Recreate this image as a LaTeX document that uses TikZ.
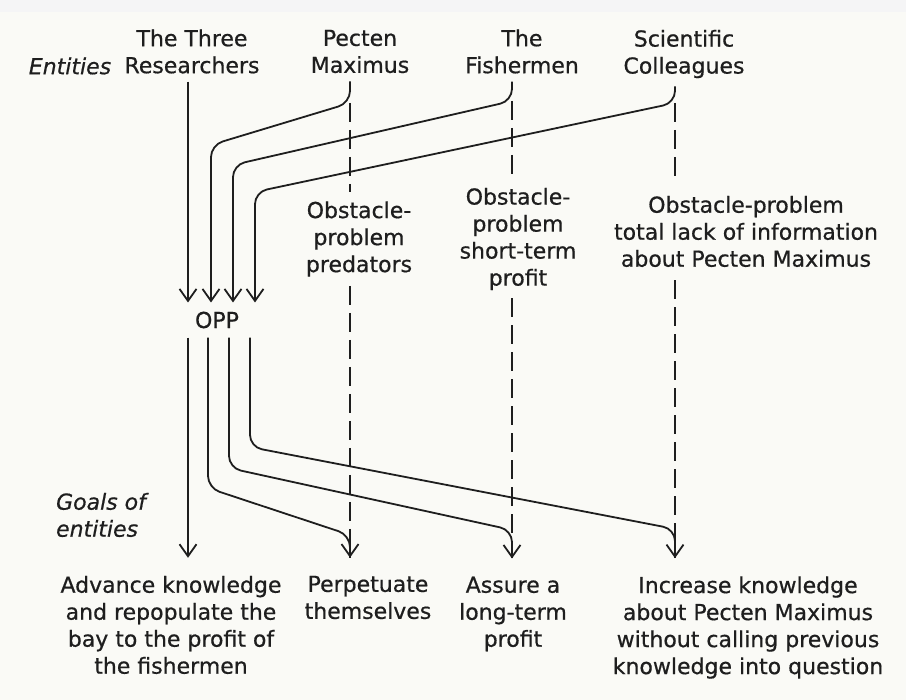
\documentclass[tikz,border=0pt]{standalone}
\usepackage{fontspec}
\setmainfont{DejaVu Sans}[FakeBold=0.6, ItalicFont={DejaVu Sans Oblique}, ItalicFeatures={FakeBold=0.6}]
\usetikzlibrary{arrows.meta}

\definecolor{ink}{RGB}{30,30,30}
\definecolor{paper}{RGB}{250,250,246}

\tikzset{
  label font/.style={font=\fontsize{22}{27}\selectfont, text=ink},
  side font/.style={font=\fontsize{22}{27}\selectfont\itshape, text=ink},
  flow/.style={draw=ink, line width=1.8pt, rounded corners=12pt},
  tip/.style={-{Straight Barb[length=12pt,width=17pt,line width=1.8pt]}},
  gap/.style={draw=ink, line width=1.5pt, dash pattern=on 19pt off 8pt},
}

\begin{document}
\begin{tikzpicture}[x=1pt,y=-1pt]

  \fill[paper] (0,0) rectangle (906,700);
  \fill[blue!2!paper] (0,0) rectangle (906,12);
  \useasboundingbox (0,0) rectangle (906,700);

  % entities
  \begin{scope}[every node/.style={label font, align=center, inner xsep=2pt, inner ysep=8pt}]
    \node (res)  at (192,51.5) {The Three\\Researchers};
    \node (pm)   at (360,51.5) {Pecten\\Maximus};
    \node (fish) at (522,51.5) {The\\Fishermen};
    \node (col)  at (684,54)   {Scientific\\Colleagues};
  \end{scope}

  \begin{scope}[every node/.style={side font, align=left}]
    \node (ent)   at (70,66)   {Entities};
    \node (goals) at (101,515) {Goals of\\entities};
  \end{scope}

  \node[label font, inner ysep=9pt] (opp) at (217,320) {OPP};

  % obstacles
  \begin{scope}[every node/.style={label font, align=center}]
    \node[inner ysep=9pt]  (obs1) at (359,239)   {Obstacle-\\problem\\predators};
    \node[inner ysep=8pt]  (obs2) at (518,239)   {Obstacle-\\problem\\short-term\\profit};
    \node[inner ysep=13pt] (obs3) at (746,231.5) {Obstacle-problem\\total lack of information\\about Pecten Maximus};
  \end{scope}

  % goals
  \begin{scope}[every node/.style={label font, align=center, inner ysep=18pt}]
    \node (adv)  at (171,625)   {Advance knowledge\\and repopulate the\\bay to the profit of\\the fishermen};
    \node (perp) at (368,597.5) {Perpetuate\\themselves};
    \node (sure) at (513,614)   {Assure a\\long-term\\profit};
    \node (inc)  at (748,627.5) {Increase knowledge\\about Pecten Maximus\\without calling previous\\knowledge into question};
  \end{scope}

  \coordinate (k1) at (188,300);
  \coordinate (k2) at (211,145);
  \coordinate (k3) at (233,165);
  \coordinate (k4) at (255,192);
  \coordinate (pmb)   at (350,103);
  \coordinate (fishb) at (512,101);
  \coordinate (colb)  at (675,103);

  \coordinate (o2) at (208,488);
  \coordinate (o3) at (229,468);
  \coordinate (o4) at (250,447);
  \coordinate (p2) at (350,535);
  \coordinate (p3) at (512,530);
  \coordinate (p4) at (675,529);

  % into OPP
  \draw[flow, tip] ([xshift=-4pt]res.south) -- (k1 |- opp.north);
  \draw[flow, tip] ([xshift=-10pt]pm.south) -- (pmb) -- (k2) -- (k2 |- opp.north);
  \draw[flow, tip] ([xshift=-10pt]fish.south) -- (fishb) -- (k3) -- (k3 |- opp.north);
  \draw[flow, tip] ([xshift=-9pt]col.south) -- (colb) -- (k4) -- (k4 |- opp.north);

  % obstacles
  \draw[gap] (pmb) -- (obs1.north -| pmb);
  \draw[gap] (obs1.south -| pmb) -- (pmb |- perp.north);
  \draw[gap] (fishb) -- (obs2.north -| fishb);
  \draw[gap] (obs2.south -| fishb) -- (fishb |- sure.north);
  \draw[gap] (colb) -- (obs3.north -| colb);
  \draw[gap] (obs3.south -| colb) -- (colb |- inc.north);

  % out of OPP
  \draw[flow, tip] (opp.south -| k1) -- (k1 |- adv.north);
  \draw[flow, tip] (opp.south -| o2) -- (o2) -- (p2) -- (p2 |- perp.north);
  \draw[flow, tip] (opp.south -| o3) -- (o3) -- (p3) -- (p3 |- sure.north);
  \draw[flow, tip] (opp.south -| o4) -- (o4) -- (p4) -- (p4 |- inc.north);

\end{tikzpicture}
\end{document}
